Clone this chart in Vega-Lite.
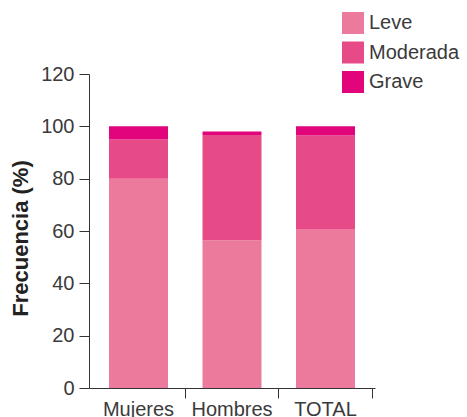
{
  "$schema": "https://vega.github.io/schema/vega-lite/v6.json",
  "autosize": "none",
  "padding": {"left": 89, "top": 74, "right": 92, "bottom": 29},
  "width": 286,
  "height": 314,
  "background": "white",
  "config": {
    "view": {"stroke": null},
    "font": "Liberation Sans"
  },
  "data": {
    "values": [
      {"grupo": "Mujeres", "severidad": "Leve", "orden": 1, "valor": 80},
      {"grupo": "Mujeres", "severidad": "Moderada", "orden": 2, "valor": 15},
      {"grupo": "Mujeres", "severidad": "Grave", "orden": 3, "valor": 5},
      {"grupo": "Hombres", "severidad": "Leve", "orden": 1, "valor": 56.5},
      {"grupo": "Hombres", "severidad": "Moderada", "orden": 2, "valor": 40.2},
      {"grupo": "Hombres", "severidad": "Grave", "orden": 3, "valor": 1.3},
      {"grupo": "TOTAL", "severidad": "Leve", "orden": 1, "valor": 60.8},
      {"grupo": "TOTAL", "severidad": "Moderada", "orden": 2, "valor": 35.7},
      {"grupo": "TOTAL", "severidad": "Grave", "orden": 3, "valor": 3.5}
    ]
  },
  "mark": {"type": "bar"},
  "encoding": {
    "x": {
      "field": "grupo",
      "type": "nominal",
      "sort": ["Mujeres", "Hombres", "TOTAL"],
      "scale": {"paddingInner": 0.369, "paddingOuter": 0.214},
      "axis": {
        "title": null,
        "labelAngle": 0,
        "labelFontSize": 20,
        "labelColor": "#3a3a3a",
        "labelPadding": 1,
        "bandPosition": 1.292,
        "tickSize": 10,
        "tickColor": "#333333",
        "domainColor": "#333333"
      }
    },
    "y": {
      "field": "valor",
      "type": "quantitative",
      "stack": "zero",
      "scale": {"domain": [0, 120], "nice": false},
      "axis": {
        "title": "Frecuencia (%)",
        "titleFontSize": 22,
        "titleFontWeight": "bold",
        "titleColor": "#222222",
        "titlePadding": 8,
        "titleY": 164,
        "values": [0, 20, 40, 60, 80, 100, 120],
        "labelFontSize": 20,
        "labelColor": "#3a3a3a",
        "labelPadding": 5,
        "tickSize": 10,
        "tickColor": "#333333",
        "domainColor": "#333333",
        "grid": false
      }
    },
    "order": {"field": "orden", "type": "quantitative"},
    "color": {
      "field": "severidad",
      "type": "nominal",
      "scale": {
        "domain": ["Leve", "Moderada", "Grave"],
        "range": ["#EC7A9C", "#E64A87", "#E1047B"]
      },
      "legend": {
        "title": null,
        "orient": "none",
        "legendX": 253,
        "legendY": -62,
        "symbolType": "square",
        "symbolSize": 484,
        "symbolStrokeWidth": 0,
        "symbolOpacity": 1,
        "labelFontSize": 20,
        "labelColor": "#3a3a3a",
        "labelOffset": 5,
        "rowPadding": 7.5,
        "padding": 0
      }
    }
  }
}
